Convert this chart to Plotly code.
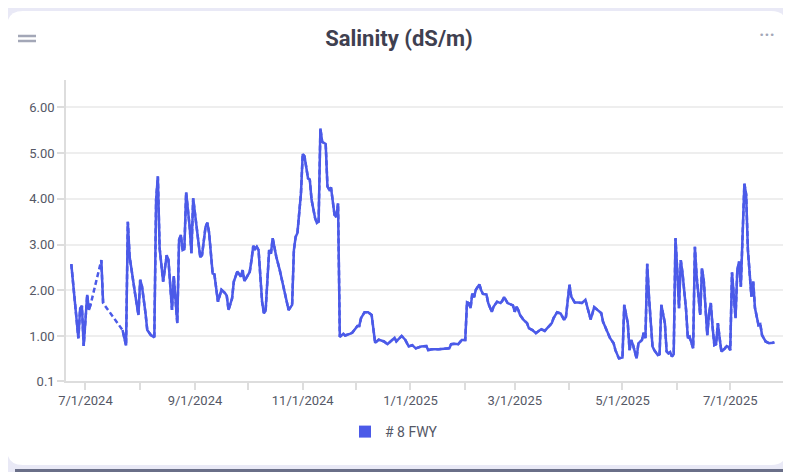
import plotly.graph_objects as go

# ---------------- data ----------------
dates = [
    "2024-06-23", "2024-06-27", "2024-06-28", "2024-06-29", "2024-06-30", "2024-07-02", "2024-07-03", "2024-07-04",
    "2024-07-07",
    "2024-07-10", "2024-07-11",
    "2024-07-16",
    "2024-07-22", "2024-07-24", "2024-07-25", "2024-07-26", "2024-07-29", "2024-07-31",
    "2024-08-01", "2024-08-02", "2024-08-04", "2024-08-05", "2024-08-07", "2024-08-09", "2024-08-10", "2024-08-11",
    "2024-08-12", "2024-08-14", "2024-08-16", "2024-08-17", "2024-08-19", "2024-08-20", "2024-08-22", "2024-08-23",
    "2024-08-24", "2024-08-25", "2024-08-26", "2024-08-27", "2024-08-29", "2024-08-30", "2024-08-31",
    "2024-09-02", "2024-09-04", "2024-09-05", "2024-09-07", "2024-09-08", "2024-09-09", "2024-09-11", "2024-09-12",
    "2024-09-14", "2024-09-16", "2024-09-18", "2024-09-19", "2024-09-20", "2024-09-22", "2024-09-23", "2024-09-25",
    "2024-09-27", "2024-09-28", "2024-09-29",
    "2024-10-01", "2024-10-02", "2024-10-03", "2024-10-04", "2024-10-05", "2024-10-06", "2024-10-07", "2024-10-09",
    "2024-10-10", "2024-10-11", "2024-10-13", "2024-10-14", "2024-10-15", "2024-10-17", "2024-10-19", "2024-10-21",
    "2024-10-23", "2024-10-24", "2024-10-26", "2024-10-27", "2024-10-28", "2024-10-29", "2024-10-31",
    "2024-11-01", "2024-11-02", "2024-11-04", "2024-11-05", "2024-11-06", "2024-11-08", "2024-11-09", "2024-11-10",
    "2024-11-11", "2024-11-12", "2024-11-14", "2024-11-15", "2024-11-16", "2024-11-17", "2024-11-19", "2024-11-20",
    "2024-11-21", "2024-11-22", "2024-11-24", "2024-11-25", "2024-11-26", "2024-11-28", "2024-11-29",
    "2024-12-02", "2024-12-03", "2024-12-04", "2024-12-06", "2024-12-08", "2024-12-10", "2024-12-12", "2024-12-14",
    "2024-12-16", "2024-12-17", "2024-12-19", "2024-12-21", "2024-12-23", "2024-12-24", "2024-12-27", "2024-12-29",
    "2024-12-31",
    "2025-01-02", "2025-01-04", "2025-01-07", "2025-01-10", "2025-01-11", "2025-01-13", "2025-01-17", "2025-01-21",
    "2025-01-23", "2025-01-24", "2025-01-26", "2025-01-28", "2025-01-30",
    "2025-02-01", "2025-02-02", "2025-02-03", "2025-02-04", "2025-02-05", "2025-02-06", "2025-02-07", "2025-02-09",
    "2025-02-10", "2025-02-11", "2025-02-13", "2025-02-14", "2025-02-16", "2025-02-17", "2025-02-19", "2025-02-21",
    "2025-02-22", "2025-02-23", "2025-02-25", "2025-02-26", "2025-02-28",
    "2025-03-01", "2025-03-02", "2025-03-03", "2025-03-04", "2025-03-06", "2025-03-08", "2025-03-09", "2025-03-11",
    "2025-03-13", "2025-03-15", "2025-03-16", "2025-03-18", "2025-03-20", "2025-03-22", "2025-03-23", "2025-03-25",
    "2025-03-27", "2025-03-29", "2025-03-30",
    "2025-04-01", "2025-04-02", "2025-04-04", "2025-04-06", "2025-04-08", "2025-04-10", "2025-04-11", "2025-04-13",
    "2025-04-15", "2025-04-17", "2025-04-19", "2025-04-20", "2025-04-22", "2025-04-24", "2025-04-26", "2025-04-27",
    "2025-04-29",
    "2025-05-01", "2025-05-02", "2025-05-04", "2025-05-05", "2025-05-06", "2025-05-07", "2025-05-09", "2025-05-10",
    "2025-05-12", "2025-05-13", "2025-05-14", "2025-05-15", "2025-05-16", "2025-05-18", "2025-05-19", "2025-05-21",
    "2025-05-22", "2025-05-23", "2025-05-25", "2025-05-26", "2025-05-27", "2025-05-28", "2025-05-29", "2025-05-30",
    "2025-05-31",
    "2025-06-01", "2025-06-02", "2025-06-03", "2025-06-04", "2025-06-06", "2025-06-07", "2025-06-08", "2025-06-10",
    "2025-06-11", "2025-06-12", "2025-06-14", "2025-06-15", "2025-06-16", "2025-06-18", "2025-06-19", "2025-06-20",
    "2025-06-21", "2025-06-22", "2025-06-23", "2025-06-24", "2025-06-25", "2025-06-26", "2025-06-28", "2025-06-29",
    "2025-06-30",
    "2025-07-01", "2025-07-02", "2025-07-03", "2025-07-04", "2025-07-05", "2025-07-06", "2025-07-07", "2025-07-09",
    "2025-07-10", "2025-07-11", "2025-07-13", "2025-07-14", "2025-07-15", "2025-07-17", "2025-07-18", "2025-07-19",
    "2025-07-21", "2025-07-23", "2025-07-25", "2025-07-26",
]

salinity = [
    2.57, 0.95, 1.60, 1.66, 0.78, 1.90, 1.57, 1.70,
    None,
    2.66, 1.72,
    None,
    1.13, 0.79, 3.50, 2.74, 1.95, 1.46,
    2.23, 2.09, 1.50, 1.13, 1.02, 0.97, 3.98, 4.49,
    2.92, 2.19, 2.77, 2.66, 1.57, 2.31, 1.28, 3.10,
    3.21, 2.88, 2.90, 4.14, 3.39, 2.81, 4.01,
    3.32, 2.72, 2.77, 3.39, 3.48, 3.26, 2.37, 2.35,
    1.75, 2.01, 1.94, 1.88, 1.57, 1.82, 2.19, 2.41,
    2.30, 2.44, 2.20,
    2.35, 2.40, 2.66, 2.97, 2.90, 2.95, 2.88, 1.75,
    1.50, 1.55, 2.88, 2.80, 3.14, 2.74, 2.44, 2.08,
    1.75, 1.57, 1.68, 2.88, 3.17, 3.25, 4.12,
    4.98, 4.93, 4.45, 4.42, 3.98, 3.58, 3.47, 3.50,
    5.54, 5.25, 5.20, 4.27, 4.20, 4.25, 3.65, 3.60,
    3.90, 0.98, 1.05, 1.01, 1.02, 1.05, 1.07,
    1.22, 1.22, 1.39, 1.52, 1.52, 1.46, 0.85, 0.92,
    0.90, 0.88, 0.82, 0.88, 0.96, 0.88, 1.00, 0.92,
    0.77,
    0.80, 0.73, 0.77, 0.78, 0.69, 0.71, 0.71, 0.73,
    0.73, 0.82, 0.83, 0.82, 0.91,
    0.91, 1.74, 1.72, 1.61, 1.93, 1.85, 2.01, 2.13,
    2.00, 1.92, 1.91, 1.72, 1.53, 1.64, 1.75, 1.72,
    1.77, 1.85, 1.72, 1.70, 1.67,
    1.53, 1.64, 1.57, 1.46, 1.35, 1.28, 1.17, 1.13,
    1.06, 1.11, 1.15, 1.11, 1.20, 1.28, 1.39, 1.52,
    1.49, 1.35, 1.42,
    2.12, 1.86, 1.73, 1.73, 1.72, 1.79, 1.64, 1.36,
    1.63, 1.57, 1.50, 1.31, 1.13, 0.95, 0.84, 0.69,
    0.51,
    0.53, 1.68, 1.28, 0.69, 0.91, 0.80, 0.51, 0.84,
    0.91, 1.07, 0.95, 2.58, 1.86, 0.77, 0.69, 0.58,
    0.60, 1.68, 1.28, 0.66, 0.62, 0.65, 0.55, 0.60,
    3.14,
    2.45, 1.61, 2.66, 2.37, 1.57, 0.95, 0.98, 0.73,
    2.95, 2.30, 1.46, 2.48, 2.22, 1.02, 1.49, 1.72,
    1.20, 0.80, 0.82, 1.28, 0.95, 0.66, 0.73, 0.78,
    0.76,
    0.69, 2.39, 1.86, 1.39, 2.44, 2.63, 2.08, 4.33,
    4.10, 2.88, 1.86, 2.19, 1.61, 1.24, 1.26, 1.02,
    0.88, 0.84, 0.85, 0.86,
]

series_name = "# 8 FWY"
y_tick_vals = [0.015, 1, 2, 3, 4, 5, 6]
y_tick_text = ["0.1", "1.00", "2.00", "3.00", "4.00", "5.00", "6.00"]
x_tick_vals = ["2024-07-01", "2024-08-01", "2024-09-01", "2024-10-01", "2024-11-01", "2024-12-01",
               "2025-01-01", "2025-02-01", "2025-03-01", "2025-04-01", "2025-05-01", "2025-06-01",
               "2025-07-01", "2025-08-01"]
x_tick_text = ["7/1/2024", "", "9/1/2024", "", "11/1/2024", "", "1/1/2025", "", "3/1/2025", "",
               "5/1/2025", "", "7/1/2025", ""]

# ---------------- styling / geometry ----------------
OFF = 8                      # page body margin: figure origin sits at (8, 8) on screen
SW, SH = 791, 472            # screen size
W, H = SW - OFF, SH - OFF    # figure size
PL, PR, PT, PB = 66, 785, 80, 381  # plot area in screen pixels
LINE_COLOR = "#4b5ae8"
TEXT_COLOR = "#555866"


def px(xp):
    return (xp - PL) / (PR - PL)


def py(yp):
    return (PB - yp) / (PB - PT)


def rounded_path(x0, y0, x1, y1, r):
    rx = r / (PR - PL)
    ry = r / (PB - PT)
    X0, X1 = px(x0), px(x1)
    Y0, Y1 = py(y0), py(y1)  # Y0 top, Y1 bottom
    return (
        f"M {X0 + rx} {Y0} L {X1 - rx} {Y0} Q {X1} {Y0} {X1} {Y0 - ry} "
        f"L {X1} {Y1 + ry} Q {X1} {Y1} {X1 - rx} {Y1} "
        f"L {X0 + rx} {Y1} Q {X0} {Y1} {X0} {Y1 + ry} "
        f"L {X0} {Y0 - ry} Q {X0} {Y0} {X0 + rx} {Y0} Z"
    )


fig = go.Figure()

# dashed bridge across missing values (drawn underneath)
fig.add_trace(go.Scatter(
    x=dates, y=salinity, mode="lines", connectgaps=True,
    line=dict(color=LINE_COLOR, width=2.5, dash="5px,3px"),
    showlegend=False, hoverinfo="skip",
))
# solid measured series
fig.add_trace(go.Scatter(
    x=dates, y=salinity, mode="lines", connectgaps=False,
    line=dict(color=LINE_COLOR, width=2.5),
    name=series_name, showlegend=False,
))
# legend entry with square symbol
fig.add_trace(go.Scatter(
    x=[None], y=[None], mode="markers", name=series_name,
    marker=dict(symbol="square", size=12, color=LINE_COLOR),
    showlegend=True,
))

shapes = [
    # lavender container
    dict(type="rect", xref="paper", yref="paper", x0=px(7), x1=px(800), y0=py(480), y1=py(7),
         fillcolor="#e9e9f6", line=dict(width=0), layer="below"),
    # dark strip at bottom
    dict(type="rect", xref="paper", yref="paper", x0=px(15), x1=px(800), y0=py(480), y1=py(469),
         fillcolor="#6a6f88", line=dict(width=0), layer="below"),
    # white card
    dict(type="path", xref="paper", yref="paper", path=rounded_path(7, 11, 787, 465, 16),
         fillcolor="#ffffff", line=dict(width=0), layer="below"),
    # hamburger icon
    dict(type="line", xref="paper", yref="paper", x0=px(18), x1=px(36), y0=py(36), y1=py(36),
         line=dict(color="#a3a7b7", width=2.5), layer="above"),
    dict(type="line", xref="paper", yref="paper", x0=px(18), x1=px(36), y0=py(41), y1=py(41),
         line=dict(color="#a3a7b7", width=2.5), layer="above"),
]

annotations = [
    dict(text="•••", xref="paper", yref="paper", x=px(767), y=py(35), showarrow=False,
         font=dict(size=9, color="#a3a7b7", family="DejaVu Sans"), xanchor="center", yanchor="middle"),
]

fig.update_layout(
    width=W, height=H,
    margin=dict(l=PL - OFF, r=SW - PR, t=PT - OFF, b=SH - PB, pad=0, autoexpand=False),
    paper_bgcolor="#ffffff",
    plot_bgcolor="rgba(0,0,0,0)",
    font=dict(family="Roboto", size=13, color=TEXT_COLOR),
    title=dict(text="<b>Salinity (dS/m)</b>", x=(399 - OFF) / W, xref="container", xanchor="center",
               y=1 - (38 - OFF) / H, yref="container", yanchor="middle",
               font=dict(family="Roboto", size=22, color="#3f4050")),
    shapes=shapes,
    annotations=annotations,
    legend=dict(orientation="h", x=px(394), xanchor="center", y=py(432), yanchor="middle",
                font=dict(size=14, color=TEXT_COLOR), bgcolor="rgba(0,0,0,0)", itemwidth=30),
    xaxis=dict(
        type="date", range=["2024-06-20", "2025-08-01"],
        tickvals=x_tick_vals, ticktext=x_tick_text,
        showgrid=False, zeroline=False,
        showline=True, linecolor="#dddddd", linewidth=1.5,
        ticks="outside", ticklen=7, tickcolor="#dddddd", tickwidth=1.5,
        tickfont=dict(size=13, color=TEXT_COLOR), tickangle=0,
    ),
    yaxis=dict(
        range=[0.015, 6.6],
        tickvals=y_tick_vals, ticktext=y_tick_text,
        showgrid=True, gridcolor="#eeeeee", gridwidth=1.5, zeroline=False,
        showline=True, linecolor="#dddddd", linewidth=1.5,
        ticks="outside", ticklen=7, tickcolor="#dddddd", tickwidth=1.5,
        tickfont=dict(size=13, color=TEXT_COLOR),
    ),
)

fig.write_html("out.html")
